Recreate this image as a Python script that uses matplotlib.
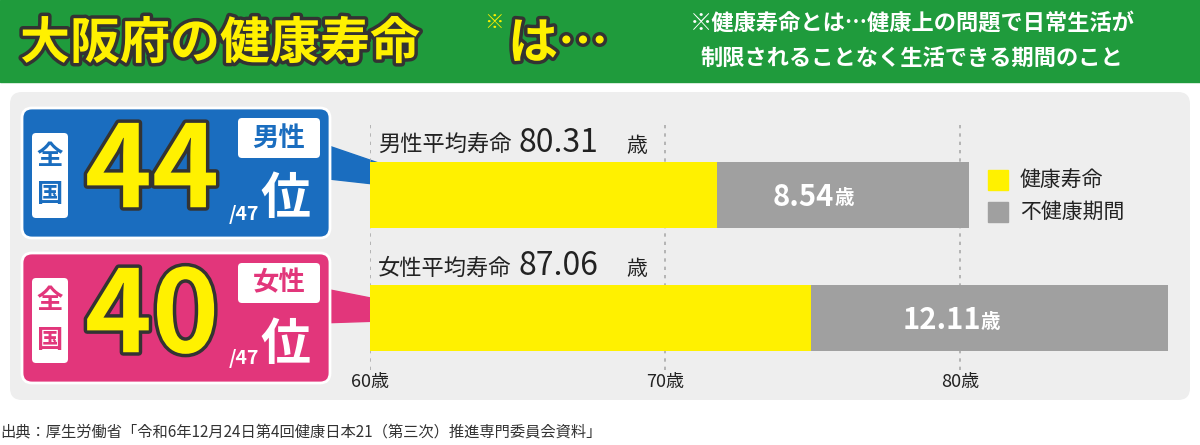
import matplotlib
matplotlib.use("Agg")
import matplotlib.pyplot as plt
from matplotlib.patches import FancyBboxPatch, Rectangle, Polygon
import matplotlib.patheffects as pe

plt.rcParams['font.family'] = ['Noto Sans CJK JP', 'DejaVu Sans']

groups = ["男性", "女性"]
life_exp = [80.31, 87.06]
healthy = [71.77, 74.95]
unhealthy = [8.54, 12.11]
ranks = [44, 40]
xticks = [60, 70, 80]
legend_labels = ["健康寿命", "不健康期間"]

W, H = 1200, 445
fig = plt.figure(figsize=(12, 4.45), dpi=100)
bg = fig.add_axes([0, 0, 1, 1])
bg.set_xlim(0, W); bg.set_ylim(H, 0); bg.axis('off')

GREEN, YELLOW, GRAY = "#1f9b3c", "#fff100", "#a0a0a0"
BLUE, PINK, RED, DARK = "#1a6dbf", "#e2367b", "#e60012", "#222222"
outline = [pe.withStroke(linewidth=5, foreground="#333333")]

bg.add_patch(Rectangle((0, 0), W, 82, color=GREEN, zorder=1))
bg.add_patch(FancyBboxPatch((10, 92), 1180, 308, boxstyle="round,pad=0,rounding_size=12",
                            fc="#eeeeee", ec="none", zorder=1))
bg.text(20, 44, "大阪府の健康寿命", fontsize=36, fontweight='bold', color=YELLOW,
        va='center', path_effects=outline, zorder=3)
bg.text(494, 22, "※", fontsize=14, fontweight='bold', color=YELLOW, va='center', ha='center', zorder=3)
bg.text(508, 44, "は…", fontsize=36, fontweight='bold', color=YELLOW, va='center',
        path_effects=outline, zorder=3)
bg.text(912, 24, "※健康寿命とは…健康上の問題で日常生活が", fontsize=16, fontweight='bold',
        color='white', va='center', ha='center', zorder=3)
bg.text(912, 58, "制限されることなく生活できる期間のこと", fontsize=16, fontweight='bold',
        color='white', va='center', ha='center', zorder=3)
bg.text(0, 432, "出典：厚生労働省「令和6年12月24日第4回健康日本21（第三次）推進専門委員会資料」",
        fontsize=11, color="#333333", va='center', zorder=3)

ax = fig.add_axes([370 / W, 1 - 370 / H, 810 / W, 250 / H])
ax.set_xlim(60, 60 + 810 / 29.5)
ax.set_ylim(250, 0)
ax.axis('off')
ax.patch.set_alpha(0)
centers = [75, 198]
for xt in xticks:
    ax.plot([xt, xt], [5, 250], ls=(0, (2, 3)), color="#aaaaaa", lw=1.2, zorder=0)
    ax.text(xt, 262, f"{xt}歳", ha='center', va='center', fontsize=13, color=DARK, clip_on=False)
for i, c in enumerate(centers):
    ax.barh(c, healthy[i] - 60, left=60, height=66, color=YELLOW, zorder=2)
    ax.barh(c, unhealthy[i], left=healthy[i], height=66, color=GRAY, zorder=2)
    mid = healthy[i] + unhealthy[i] / 2
    ax.text(mid - 0.3, c + 2, f"{unhealthy[i]:.2f}", fontsize=21, fontweight='bold', color='white',
            ha='right', va='center', zorder=4)
    ax.text(mid - 0.3, c + 4, "歳", fontsize=14, fontweight='bold', color='white', ha='left', va='center', zorder=4)
    py = 120 + c
    bg.text(378, py - 50, f"{groups[i]}平均寿命", fontsize=16, ha='left', va='center', color=DARK, zorder=4)
    bg.text(519, py - 52, f"{life_exp[i]:.2f}", fontsize=23, ha='left', va='center', color=DARK, zorder=4)
    bg.text(626, py - 49, "歳", fontsize=15, ha='left', va='center', color=DARK, zorder=4)
    bg.text(588, py + 2, f"{healthy[i]:.2f}", fontsize=21, fontweight='bold', color=RED,
            ha='right', va='center', zorder=4)
    bg.text(588, py + 4, "歳", fontsize=14, fontweight='bold', color=RED, ha='left', va='center', zorder=4)

for j, (lab, col) in enumerate(zip(legend_labels, [YELLOW, GRAY])):
    y = 180 + j * 32
    bg.add_patch(Rectangle((988, y - 10), 20, 20, color=col, zorder=3))
    bg.text(1020, y, lab, fontsize=15, va='center', color=DARK, zorder=3)

for i, (col, top) in enumerate([(BLUE, 108), (PINK, 253)]):
    cy = top + 65
    by = 120 + centers[i]
    bg.add_patch(Polygon([[320, cy - 30], [472, by], [320, cy + 5]],
                         closed=True, color=col, zorder=2))
    bg.add_patch(FancyBboxPatch((22, top), 308, 130, boxstyle="round,pad=0,rounding_size=10",
                                fc=col, ec='white', lw=2, zorder=3))
    bg.add_patch(FancyBboxPatch((32, top + 25), 36, 85, boxstyle="round,pad=0,rounding_size=4",
                                fc='white', ec='none', zorder=4))
    bg.text(50, top + 48, "全", fontsize=19, fontweight='bold', color=col, ha='center', va='center', zorder=5)
    bg.text(50, top + 87, "国", fontsize=19, fontweight='bold', color=col, ha='center', va='center', zorder=5)
    bg.text(152, top + 66, str(ranks[i]), fontsize=82, fontweight='bold', color=YELLOW,
            ha='center', va='center', path_effects=outline, zorder=5)
    bg.text(229, top + 106, "/47", fontsize=14, fontweight='bold', color='white', ha='left', va='center', zorder=5)
    bg.text(285, top + 92, "位", fontsize=36, fontweight='bold', color='white', ha='center', va='center', zorder=5)
    bg.add_patch(FancyBboxPatch((238, top + 10), 82, 40, boxstyle="round,pad=0,rounding_size=4",
                                fc='white', ec='none', zorder=4))
    bg.text(279, top + 30, groups[i], fontsize=19, fontweight='bold', color=col, ha='center', va='center', zorder=5)

fig.savefig("out.png", dpi=100)
